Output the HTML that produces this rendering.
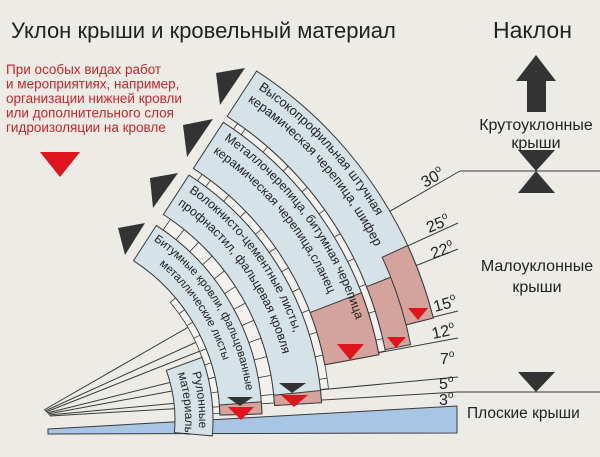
<!DOCTYPE html>
<html><head><meta charset="utf-8">
<style>
html,body{margin:0;padding:0;background:#ecebe6;}
svg{display:block;}
text{font-family:"Liberation Sans",sans-serif;}
</style></head>
<body>
<svg id="s" width="600" height="457" viewBox="0 0 600 457" xmlns="http://www.w3.org/2000/svg">
<rect width="600" height="457" fill="#ecebe6"/>
<text x="11" y="38" font-size="22" fill="#222">Уклон крыши и кровельный материал</text>
<text x="493" y="38" font-size="23" fill="#222">Наклон</text>
<g font-size="13.5" fill="#c8262c">
<text x="6" y="74">При особых видах работ</text>
<text x="6" y="88.5">и мероприятиях, например,</text>
<text x="6" y="103">организации нижней кровли</text>
<text x="6" y="117.5">или дополнительного слоя</text>
<text x="6" y="132">гидроизоляции на кровле</text>
</g>
<polygon points="40,152 80,152 60,177" fill="#e0141c"/>
<polygon points="536,55 516,81 556,81" fill="#333"/>
<rect x="527" y="80" width="19" height="32" fill="#333"/>
<text x="536" y="130" font-size="16" fill="#222" text-anchor="middle">Крутоуклонные</text>
<text x="536" y="148" font-size="16" fill="#222" text-anchor="middle">крыши</text>
<polygon points="518,150 555,150 536,171" fill="#333"/>
<polygon points="536,171 518,193 555,193" fill="#333"/>
<text x="537" y="271" font-size="16" fill="#222" text-anchor="middle">Малоуклонные</text>
<text x="537" y="292" font-size="16" fill="#222" text-anchor="middle">крыши</text>
<polygon points="518,372 555,372 536,392" fill="#333"/>
<text x="467" y="418" font-size="15.5" fill="#222">Плоские крыши</text>
<g id="dyn"></g>
</svg>
<script>
(function(){
var NS="http://www.w3.org/2000/svg";
var g=document.getElementById("dyn");
var CX=30,CY=420;
function P(r,a){a=a*Math.PI/180;return [(CX+r*Math.cos(a)).toFixed(1),(CY-r*Math.sin(a)).toFixed(1)];}
function el(t,at,par){var e=document.createElementNS(NS,t);for(var k in at)e.setAttribute(k,at[k]);(par||g).appendChild(e);return e;}
function sec(r1,r2,a1,a2){var A=P(r2,a2),B=P(r2,a1),C=P(r1,a1),D=P(r1,a2);
return "M"+A+" A"+r2+" "+r2+" 0 0 1 "+B+" L"+C+" A"+r1+" "+r1+" 0 0 0 "+D+" Z";}
function arc(r,a2,a1){var A=P(r,a2),B=P(r,a1);return "M"+A+" A"+r+" "+r+" 0 0 1 "+B;}
var ST="#3a3a3a",LB="#d5e2e7",PK="#d4a39c";
var ends=[[460,171],[458,223],[458,249],[458,311],[458,338],[458,377],[458,392]];
var starts=[[44,410],[45,411],[46,412],[47,413],[48,414],[49,415],[50,416]];
for(var i=0;i<ends.length;i++)el("line",{x1:starts[i][0],y1:starts[i][1],x2:ends[i][0],y2:ends[i][1],stroke:ST,"stroke-width":1});
el("line",{x1:460,y1:171,x2:600,y2:171,stroke:ST,"stroke-width":1});
el("line",{x1:458,y1:392,x2:600,y2:392,stroke:ST,"stroke-width":1});
el("polygon",{points:"48,429 457,406 457,433 48,434",fill:"#a8c5e4",stroke:ST,"stroke-width":1});
function gap(r1,r2,a1,a2){el("path",{d:sec(r1,r2,a1,a2),fill:"#f2f1ed",stroke:ST,"stroke-width":0.8});
for(var a=a1+2;a<a2;a+=4.5){var p=P(r1,a),q=P(r2,a);el("line",{x1:p[0],y1:p[1],x2:q[0],y2:q[1],stroke:ST,"stroke-width":0.8});}}
gap(183,190,2,40);
gap(232,245,4,55);
gap(292,300,6,55);
gap(355,362,11,55);
function band(r1,r2,a1,a2,fill){el("path",{d:sec(r1,r2,a1,a2),fill:fill||LB,stroke:ST,"stroke-width":1});}
band(145,183,-5,20);
band(190,232,1.5,57);band(190,232,1.5,4.5,PK);
band(245,292,3.4,57);band(245,292,3.4,5.8,PK);
band(300,355,10.6,57);band(300,355,10.6,21,PK);
band(362,416,14.2,57);
band(362,388,11.2,21.6,PK);
band(388,416,14.2,24.8,PK);
var tid=0;
function at(r,a2,a1,txt,fs,off){var id="tp"+(tid++);el("path",{id:id,d:arc(r,a2,a1),fill:"none"});
var t=el("text",{"font-size":fs,fill:"#222"});var tp=el("textPath",{href:"#"+id,startOffset:off||0},t);tp.textContent=txt;}
at(402,56,5,"Высокопрофильная штучная",13,4);
at(386,56,5,"керамическая черепица, шифер",13,2);
at(341,56,5,"Металлочерепица, битумная черепица",12.5,4);
at(324,56,5,"керамическая черепица,сланец",12.5,2);
at(278,56,2,"Волокнисто-цементные листы,",12.5,4);
at(261,56,2,"профнастил, фальцевая кровля",12.5,2);
at(218,56,0,"Битумные кровли, фальцованные",11.5,2);
at(202,56,0,"металлические листы",11.5,20);
at(169,19,-6,"Рулонные",12,8);
at(155,19,-6,"материалы",12,4);
var tri=[["216,73 245,68 220,105"],["183,125 213,119 187,157"],["150,178 178,173 153,208"],["118,228 145,223 125,255"]];
tri.forEach(function(p){el("polygon",{points:p[0],fill:"#333"});});
el("polygon",{points:"227,397 253,397 240,406",fill:"#333"});
el("polygon",{points:"228,407 254,407 241,420",fill:"#e0141c"});
el("polygon",{points:"279,383 306,383 292,393",fill:"#333"});
el("polygon",{points:"281,395 308,395 294,407",fill:"#e0141c"});
el("polygon",{points:"337,344 364,344 350,360",fill:"#e0141c"});
el("polygon",{points:"387,337 406,337 396,348",fill:"#e0141c"});
el("polygon",{points:"408,308 428,308 418,320",fill:"#e0141c"});
function deg(x,y,rot,n){var t=el("text",{x:x,y:y,"font-size":16,fill:"#222",transform:"rotate("+rot+" "+x+" "+y+")"});
t.appendChild(document.createTextNode(n));var s=el("tspan",{"font-size":10,dy:-7},t);s.textContent="o";}
deg(425,188,-30,"30");deg(429,233,-22,"25");deg(433,259,-20,"22");
deg(435,312,-15,"15");deg(433,339,-12,"12");deg(440,364,0,"7");deg(439,389,0,"5");deg(439,405,0,"3");
})();
</script>
</body></html>
